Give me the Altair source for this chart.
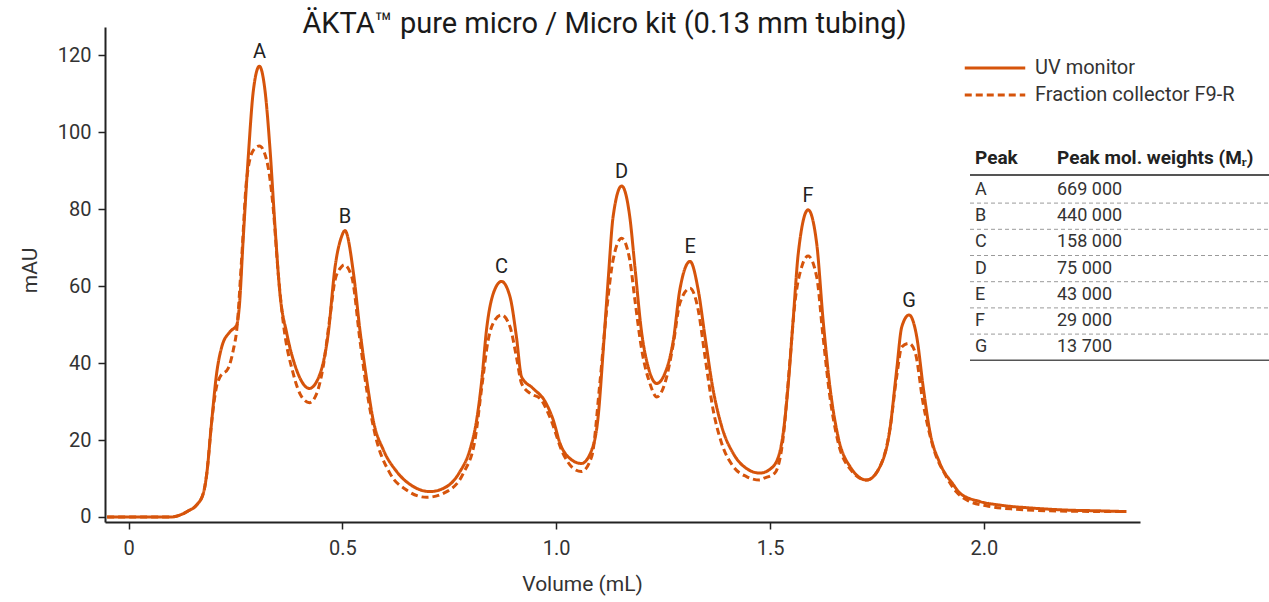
import altair as alt
import pandas as pd

# ---------------- data ----------------
uv_vol = [-0.05, 0.10, 0.12, 0.14, 0.159, 0.175, 0.183, 0.194, 0.206, 0.218, 0.237, 0.253,
          0.259, 0.268, 0.280, 0.292, 0.306, 0.319, 0.331, 0.342, 0.354, 0.370, 0.393, 0.423,
          0.448, 0.467, 0.483, 0.498, 0.506, 0.526, 0.541, 0.557, 0.572, 0.596, 0.627, 0.666,
          0.705, 0.744, 0.775, 0.798, 0.814, 0.826, 0.837, 0.853, 0.872, 0.892, 0.907, 0.919,
          0.946, 0.974, 0.993, 1.009, 1.032, 1.059, 1.083, 1.098, 1.110, 1.122, 1.133, 1.153,
          1.172, 1.184, 1.200, 1.215, 1.235, 1.254, 1.274, 1.289, 1.313, 1.332, 1.348, 1.367,
          1.387, 1.414, 1.445, 1.476, 1.507, 1.527, 1.542, 1.554, 1.566, 1.589, 1.609, 1.624,
          1.640, 1.659, 1.687, 1.726, 1.757, 1.780, 1.796, 1.808, 1.825, 1.843, 1.858, 1.874,
          1.897, 1.928, 1.944, 1.991, 2.037, 2.115, 2.193, 2.271, 2.333]
uv_mau = [0, 0, 0.5, 1.6, 3.1, 6.2, 11.3, 24.3, 37.3, 44.2, 48.1, 49.9,
          54.6, 72, 93.6, 110.9, 117.1, 110.9, 95.3, 76.3, 58.1, 47.7, 38.2, 33.4,
          37.3, 47.7, 65, 72.8, 74.4, 63.3, 48.6, 35.6, 25.2, 17.4, 11.8, 7.9,
          6.6, 7.9, 11.8, 17.4, 25.2, 35.6, 48.6, 58.1, 61.2, 57.2, 46.8, 36.4,
          33.4, 30, 25.2, 19.1, 15.2, 13.9, 17.4, 26, 43.4, 62.4, 78, 86,
          78, 65, 47.7, 39, 34.7, 37.3, 46, 59, 66.4, 59, 46.8, 33,
          23.5, 16.5, 12.6, 11.4, 13.1, 19.1, 33.8, 51.2, 68.5, 79.8, 71.1, 51.2,
          33.8, 20.9, 13.1, 9.6, 13.1, 22.6, 38.2, 49.4, 52.5, 46.8, 33.8, 22,
          14, 8.5, 6.2, 4, 3.1, 2.3, 1.8, 1.6, 1.4]

fc_vol = [-0.05, 0.10, 0.12, 0.14, 0.159, 0.175, 0.183, 0.194, 0.206, 0.214, 0.233, 0.245,
          0.253, 0.265, 0.276, 0.292, 0.306, 0.323, 0.338, 0.350, 0.362, 0.385, 0.405, 0.423,
          0.440, 0.455, 0.471, 0.483, 0.498, 0.504, 0.522, 0.541, 0.557, 0.576, 0.611, 0.650,
          0.697, 0.744, 0.783, 0.810, 0.826, 0.841, 0.857, 0.872, 0.892, 0.907, 0.919, 0.939,
          0.962, 0.985, 1.016, 1.040, 1.059, 1.083, 1.102, 1.118, 1.133, 1.153, 1.172, 1.184,
          1.200, 1.219, 1.235, 1.254, 1.274, 1.289, 1.313, 1.332, 1.348, 1.367, 1.387, 1.414,
          1.445, 1.476, 1.484, 1.511, 1.531, 1.546, 1.558, 1.574, 1.589, 1.609, 1.624, 1.640,
          1.659, 1.687, 1.726, 1.757, 1.780, 1.796, 1.808, 1.825, 1.839, 1.858, 1.881, 1.912,
          1.935, 1.960, 2.006, 2.076, 2.154, 2.333]
fc_mau = [0, 0, 0.5, 1.6, 3.1, 6.2, 11.3, 24.3, 34, 36.4, 38.6, 43.4,
          48.6, 68, 87.5, 95.3, 96.4, 92.7, 80.6, 63.3, 50.3, 37.3, 31.2, 29.7,
          32.1, 39, 52, 61.6, 65, 65.5, 62.4, 46, 33, 21.7, 11.4, 7,
          5.1, 6.6, 11.4, 20, 33.8, 46, 51.2, 52.5, 49.4, 41.6, 34.7, 32.1,
          30.8, 26, 16.5, 12.6, 11.8, 15.7, 34.7, 53.8, 66.8, 72.4, 66.8, 56.4,
          43.4, 34.7, 31.2, 34.7, 45.1, 55.5, 59.4, 53.8, 41.6, 27.8, 19.1, 13.1,
          10.5, 9.6, 10, 11.4, 20.9, 39.9, 55.5, 65, 67.8, 62.4, 46.8, 31.2,
          19.5, 12.5, 9.6, 13.1, 22.6, 36.4, 44.2, 45.1, 42.9, 29.5, 18.3, 10.5,
          6.6, 4.4, 2.9, 2.0, 1.6, 1.4]

series_names = ["UV monitor", "Fraction collector F9-R"]

peak_labels = ["A", "B", "C", "D", "E", "F", "G"]
peak_vol = [0.306, 0.506, 0.872, 1.153, 1.313, 1.589, 1.825]
peak_mau = [117.1, 74.4, 61.2, 86.0, 66.4, 79.8, 52.5]
peak_mw = ["669 000", "440 000", "158 000", "75 000", "43 000", "29 000", "13 700"]

x_ticks = [0, 0.5, 1.0, 1.5, 2.0]
y_ticks = [0, 20, 40, 60, 80, 100, 120]

TITLE = "ÄKTA™ pure micro / Micro kit (0.13 mm tubing)"
ORANGE = "#D6540B"
FONT = "Roboto"

# ---------------- tables ----------------
curves = pd.concat([
    pd.DataFrame({"vol": uv_vol, "mAU": uv_mau, "series": series_names[0], "ord": range(len(uv_vol))}),
    pd.DataFrame({"vol": fc_vol, "mAU": fc_mau, "series": series_names[1], "ord": range(len(fc_vol))}),
], ignore_index=True)

peaks = pd.DataFrame({"label": peak_labels, "vol": peak_vol, "mAU": peak_mau})

# table layout (pixel positions relative to the plot origin)
ROW0, ROWH = 163, 26.2
table = pd.DataFrame({"peak": peak_labels, "mw": peak_mw})
table["py"] = [ROW0 + ROWH * i for i in range(len(table))]
seps = pd.DataFrame({"py": [ROW0 + ROWH * (i + 0.5) for i in range(len(table) - 1)]})
solid_rules = pd.DataFrame({"py": [148, ROW0 + ROWH * (len(table) - 0.5)], "w": [2, 1.6]})
header = pd.DataFrame({"txt": ["Peak", "Peak mol. weights (Mᵣ)"], "px": [870, 952]})

W, H = 1035, 495
xscale = alt.Scale(domain=[-0.055, 2.365], nice=False, zero=False)
yscale = alt.Scale(domain=[-1.3, 127.3], nice=False, zero=False)

# wide line symbol drawn from a custom path (twice the unit box width)
legend_kw = dict(title=None, orient="none", legendX=873, legendY=24,
                 symbolType="M-2,0H2", symbolSize=915, symbolStrokeWidth=3,
                 labelFontSize=20, labelFont=FONT, labelColor="#333", labelLimit=0,
                 labelOffset=23, rowPadding=0)

lines = alt.Chart(curves).mark_line(strokeWidth=3, interpolate="monotone").encode(
    x=alt.X("vol:Q", scale=xscale,
            axis=alt.Axis(values=x_ticks, title="Volume (mL)",
                          labelExpr="datum.value == 0 ? '0' : format(datum.value, '.1f')",
                          titleX=477, titleY=62, titleBaseline="middle")),
    y=alt.Y("mAU:Q", scale=yscale,
            axis=alt.Axis(values=y_ticks, title="mAU", titleX=-75, titleY=243,
                          titleBaseline="middle", titleAngle=-90)),
    color=alt.Color("series:N", scale=alt.Scale(domain=series_names, range=[ORANGE, ORANGE]),
                    legend=alt.Legend(**legend_kw)),
    strokeDash=alt.StrokeDash("series:N", scale=alt.Scale(domain=series_names, range=[[1, 0], [7, 4]]),
                              legend=alt.Legend(**legend_kw)),
    order="ord:Q",
)

peak_text = alt.Chart(peaks).mark_text(fontSize=20, font=FONT, color="#222", dy=-14, baseline="middle").encode(
    x=alt.X("vol:Q", scale=xscale), y=alt.Y("mAU:Q", scale=yscale), text="label:N")

hdr = alt.Chart(header).mark_text(fontSize=19, font=FONT, fontWeight="bold", color="#222",
                                   align="left", baseline="middle").encode(
    x=alt.X("px:Q", scale=None), y=alt.value(131), text="txt:N")

col_peak = alt.Chart(table).mark_text(fontSize=18, font=FONT, color="#333", align="left",
                                       baseline="middle").encode(
    x=alt.value(870), y=alt.Y("py:Q", scale=None), text="peak:N")
col_mw = alt.Chart(table).mark_text(fontSize=18, font=FONT, color="#333", align="left",
                                     baseline="middle").encode(
    x=alt.value(952), y=alt.Y("py:Q", scale=None), text="mw:N")

sep_rules = alt.Chart(seps).mark_rule(color="#9a9a9a", strokeWidth=1, strokeDash=[4, 3]).encode(
    x=alt.value(865), x2=alt.value(1164), y=alt.Y("py:Q", scale=None))
main_rules = alt.Chart(solid_rules).mark_rule(color="#555").encode(
    x=alt.value(865), x2=alt.value(1164), y=alt.Y("py:Q", scale=None),
    strokeWidth=alt.StrokeWidth("w:Q", scale=None, legend=None))

chart = alt.layer(lines, peak_text, main_rules, sep_rules, hdr, col_peak, col_mw).properties(
    width=W, height=H,
    autosize=alt.AutoSizeParams(type="none"),
    padding={"left": 105, "top": 27, "right": 129, "bottom": 80},
    title=alt.TitleParams(TITLE, fontSize=29, font=FONT, fontWeight="normal", color="#1a1a1a",
                          anchor="middle", frame="group", dx=-18, dy=25, offset=-10, baseline="alphabetic"),
).configure_view(stroke=None).configure_axis(
    grid=False, domainColor="#222", domainWidth=2, tickColor="#222", tickWidth=1.5, tickSize=7,
    labelFontSize=20, labelFont=FONT, labelColor="#333", labelPadding=7,
    titleFontSize=21, titleFont=FONT, titleColor="#333", titleFontWeight="normal",
).configure_axisX(labelPadding=9)

chart.save("out.html", embed_options={"renderer": "svg", "actions": False})
